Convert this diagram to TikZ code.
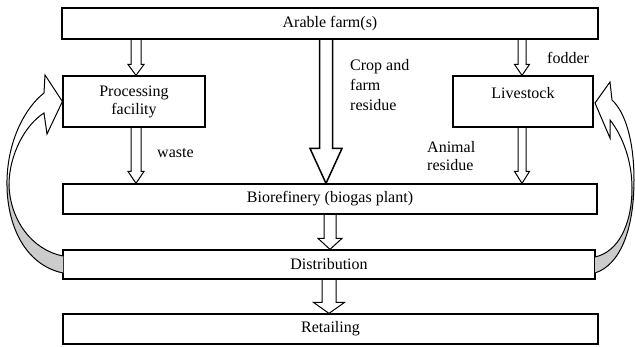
\documentclass[tikz,border=0pt]{standalone}
\usepackage{fontspec}
\setmainfont{Liberation Serif}
\usetikzlibrary{calc}
\tikzset{
  box/.style={draw, line width=1.2pt, rectangle, inner sep=0pt, align=center,
    font=\fontsize{16}{18}\selectfont},
  lbl/.style={inner sep=0pt, align=left, font=\fontsize{16}{20}\selectfont},
  arrowline/.style={draw, line width=1pt, line join=miter},
  curvearrow/.style={draw, line width=1pt, line join=miter},
}
% #1 options, #2 x, #3 from node, #4 to node, #5 half shaft, #6 half head, #7 head length
\newcommand\hollowarrow[7][]{%
  \draw[arrowline,#1] let \p1=(#2,0 |- #3.south), \p2=(#2,0 |- #4.north) in
    (\x1-#5pt,\y1) -- (\x1-#5pt,\y2+#7pt) -- (\x1-#6pt,\y2+#7pt) -- (\x1,\y2)
    -- (\x1+#6pt,\y2+#7pt) -- (\x1+#5pt,\y2+#7pt) -- (\x1+#5pt,\y1);}
\begin{document}
\begin{tikzpicture}[x=1pt,y=-1pt]
\useasboundingbox (0,0) rectangle (635,347);

\node[box, minimum width=536pt, minimum height=31pt] (farm) at (330,23.5) {Arable farm(s)};
\node[box, minimum width=142pt, minimum height=51pt] (proc) at (134,101.5) {Processing\\facility};
\node[box, minimum width=140pt, minimum height=51pt] (live) at (523,101.5) {Livestock\\\mbox{}};
\node[box, minimum width=534pt, minimum height=30pt] (bio) at (330,199) {Biorefinery (biogas plant)};
\node[box, minimum width=532pt, minimum height=29pt] (dist) at (329,264.5) {Distribution};
\node[box, minimum width=535pt, minimum height=30pt] (ret) at (330.5,329) {Retailing};

\node[lbl, anchor=west] (waste) at (157,153) {waste};
\node[lbl, anchor=west] (crop) at (350,85) {Crop and\\farm\\residue};
\node[lbl, anchor=west] (fodder) at (547,58) {fodder};
\node[lbl, anchor=west, font=\fontsize{16}{18}\selectfont] (anim) at (427,156) {Animal\\residue};

\hollowarrow{136}{farm}{proc}{5}{8}{11}
\hollowarrow{136}{proc}{bio}{5}{8}{12}
\hollowarrow[line width=1.5pt]{326}{farm}{bio}{6.5}{16}{35}
\hollowarrow{522}{farm}{live}{4}{7.5}{11}
\hollowarrow{522}{live}{bio}{4}{7.5}{12}
\hollowarrow{330}{bio}{dist}{6}{12}{11}
\hollowarrow{329}{dist}{ret}{7}{15.5}{11}

% left curved arrow (Distribution -> Processing facility)
\coordinate (lt) at (proc.west);
\fill[white] (63,273) .. controls (25,265) and (6,225) .. (7,180)
  .. controls (8,140) and (25,108) .. (44,93) -- (45,75) -- (lt) -- (47,134) -- (44,113)
  .. controls (25,125) and (9,155) .. (9,185)
  .. controls (10,220) and (32,250) .. (63,256) -- cycle;
\fill[gray!40] (7,180) .. controls (6,225) and (25,265) .. (63,273) -- (63,256)
  .. controls (32,250) and (10,220) .. (9,185) -- cycle;
\draw[curvearrow] (63,273) .. controls (25,265) and (6,225) .. (7,180)
  .. controls (8,140) and (25,108) .. (44,93) -- (45,75) -- (lt) -- (47,134) -- (44,113)
  .. controls (25,125) and (9,155) .. (9,185)
  .. controls (10,220) and (32,250) .. (63,256);

% right curved arrow (Distribution -> Livestock)
\coordinate (rt) at (595,103);
\fill[white] (595,273) .. controls (620,265) and (634,230) .. (634,180)
  .. controls (634,140) and (625,112) .. (612,100) -- (610,82) -- (rt) -- (610,138) -- (610,120)
  .. controls (622,135) and (632,160) .. (632,188)
  .. controls (632,225) and (618,252) .. (595,257) -- cycle;
\fill[gray!40] (634,180) .. controls (634,230) and (620,265) .. (595,273) -- (595,257)
  .. controls (618,252) and (632,225) .. (632,188) -- cycle;
\draw[curvearrow] (595,273) .. controls (620,265) and (634,230) .. (634,180)
  .. controls (634,140) and (625,112) .. (612,100) -- (610,82) -- (rt) -- (610,138) -- (610,120)
  .. controls (622,135) and (632,160) .. (632,188)
  .. controls (632,225) and (618,252) .. (595,257);
\end{tikzpicture}
\end{document}
